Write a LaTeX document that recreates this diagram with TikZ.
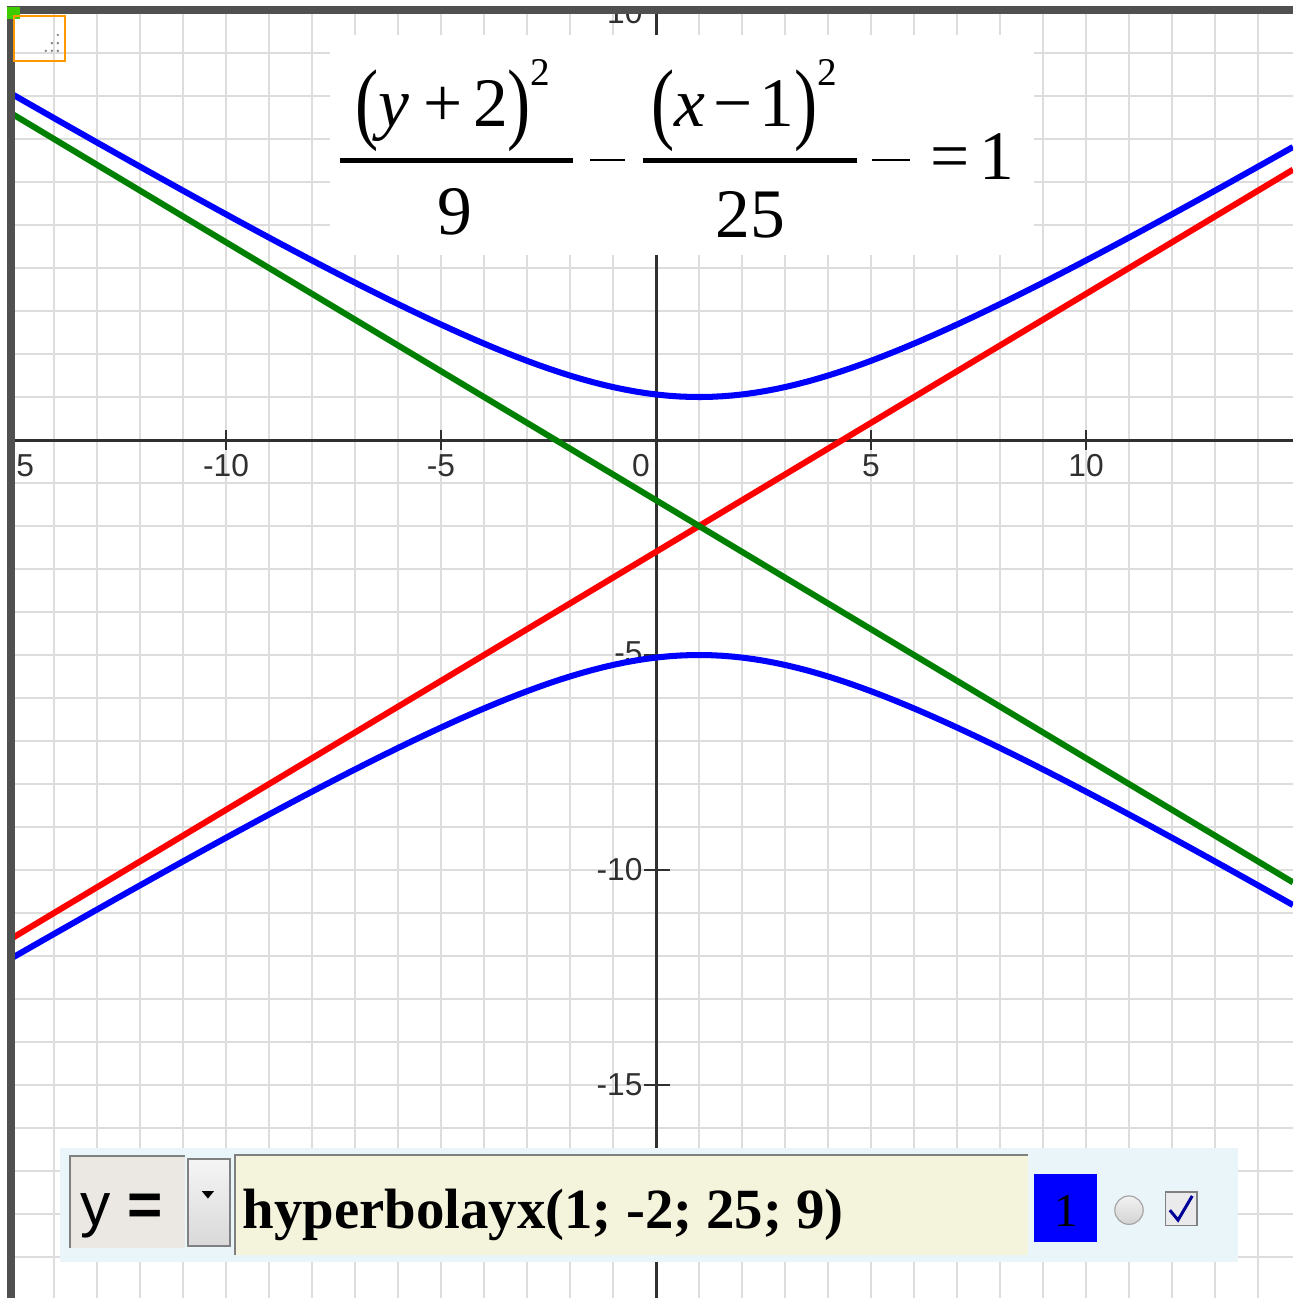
\documentclass[tikz,border=0pt]{standalone}
\usepackage{fontspec}
\setmainfont{Liberation Sans}
\newfontfamily\timesfont{Liberation Serif}
\usetikzlibrary{arrows.meta}
\definecolor{gridgray}{HTML}{DDDDDD}
\definecolor{axisgray}{HTML}{303030}
\definecolor{framegray}{HTML}{505050}
\definecolor{panelblue}{HTML}{EAF5FA}
\definecolor{labelbox}{HTML}{EBE7E2}
\definecolor{fieldyellow}{HTML}{F4F3DC}
\definecolor{asymgreen}{HTML}{008000}
\newcommand\tallpar[1]{\raisebox{-0.08em}{\scalebox{1}[1.3]{#1}}}
\newcommand\sqrd{\raisebox{0.6em}{\fontsize{13}{13}\selectfont 2}}
\tikzset{ticklab/.style={font=\fontsize{10.5}{12}\selectfont,text=axisgray,inner sep=0pt},
curve/.style={line width=2pt},
fracpart/.style={font=\timesfont\fontsize{23}{27}\selectfont,inner sep=0pt,anchor=base}}

\begin{document}
\begin{tikzpicture}[x=0.5cm,y=0.5cm]
\useasboundingbox[fill=white](-15.256,-19.953)rectangle(14.814,10.233);
\begin{scope}
\clip(-15,-19.953)rectangle(14.814,10);
\foreach \i in {-14,...,14}\draw[gridgray,line width=0.66pt](\i,-19.953)--(\i,10);
\foreach \j in {-19,...,9}\draw[gridgray,line width=0.66pt](-15,\j)--(14.814,\j);
\draw[axisgray,line width=1pt](-15,0)--(14.814,0)(0,-19.953)--(0,10);
\foreach \i in {-10,-5,5,10}\draw[axisgray,line width=0.8pt](\i,-0.23)--(\i,0.23);
\foreach \j in {10,-5,-10,-15}\draw[axisgray,line width=0.8pt](-0.28,\j)--(0.33,\j);
\node[ticklab](xa) at (-14.67,-0.6){5};
\node[ticklab](xb) at (-10,-0.6){-10};
\node[ticklab](xc) at (-5,-0.6){-5};
\node[ticklab](xd) at (-0.35,-0.6){0};
\node[ticklab](xe) at (5,-0.6){5};
\node[ticklab](xf) at (10,-0.6){10};
\node[ticklab,anchor=east](ya) at (-0.3,9.95){10};
\node[ticklab,anchor=east](yb) at (-0.3,-4.95){-5};
\node[ticklab,anchor=east](yc) at (-0.3,-10){-10};
\node[ticklab,anchor=east](yd) at (-0.3,-15){-15};
\draw[red,curve](-15,-11.6)--(14.814,6.288);
\draw[asymgreen,curve](-15,7.6)--(14.814,-10.288);
\draw[blue,curve,domain=-15:14.814,samples=120]plot(\x,{-2+3*sqrt(1+(\x-1)^2/25)});
\draw[blue,curve,domain=-15:14.814,samples=120]plot(\x,{-2-3*sqrt(1+(\x-1)^2/25)});
\end{scope}
\fill[white](-7.58,4.30)rectangle(8.79,9.42);
\node[fracpart](numa) at (-4.72,7.28){\tallpar{(}\textit{y}\hspace{0.2em}+\hspace{0.15em}2\tallpar{)}\sqrd};
\draw[line width=1.65pt](-7.35,6.51)--(-1.93,6.51);
\node[fracpart](dena) at (-4.67,4.77){9};
\draw[line width=0.7pt](-1.53,6.51)--(-0.72,6.51);
\node[fracpart](numb) at (2.05,7.28){\tallpar{(}\textit{x}\hspace{0.12em}−\hspace{0.1em}1\tallpar{)}\sqrd};
\draw[line width=1.65pt](-0.30,6.51)--(4.67,6.51);
\node[fracpart](denb) at (2.19,4.72){25};
\draw[line width=0.7pt](5.02,6.51)--(5.91,6.51);
\node[fracpart](eqs) at (6.84,6.05){=};
\node[fracpart](rhs) at (7.93,6.05){1};
\fill[panelblue](-13.86,-16.47)rectangle(13.53,-19.12);
\fill[labelbox](-13.63,-16.65)rectangle(-10.95,-18.79);
\draw[gray,line width=0.66pt](-13.63,-18.79)--(-13.63,-16.65)--(-10.95,-16.65);
\node[anchor=base west,inner sep=0pt,font=\fontsize{20}{24}\selectfont](ylab) at (-13.40,-18.26){y \textbf{=}};
\shade[top color=gray!8,bottom color=gray!30,draw=gray,line width=0.66pt](-10.88,-16.72)rectangle(-9.91,-18.74);
\fill[black](-10.56,-17.47)--(-10.28,-17.47)--(-10.42,-17.64)--cycle;
\fill[fieldyellow](-9.79,-16.63)rectangle(8.65,-18.95);
\draw[gray,line width=0.66pt](-9.79,-18.95)--(-9.79,-16.63)--(8.65,-16.63);
\node[anchor=base west,inner sep=0pt,font=\timesfont\bfseries\fontsize{18.8}{22}\selectfont](expr) at (-9.63,-18.33){hyperbolayx(1; -2; 25; 9)};
\fill[blue](8.79,-17.07)rectangle(10.26,-18.65);
\node[inner sep=0pt,font=\timesfont\fontsize{15.6}{18}\selectfont](colnum) at (9.53,-17.93){1};
\shadedraw[top color=gray!10,bottom color=gray!35,draw=gray!70](11.0,-17.91)circle(0.33);
\filldraw[fill=blue!8!gray!15,draw=gray](11.84,-17.49)rectangle(12.58,-18.26);
\draw[blue!60!black,line width=1pt](11.95,-17.91)--(12.14,-18.14)--(12.47,-17.58);
\draw[framegray,line width=2.6pt](-15,-19.953)--(-15,10)--(14.814,10);
\fill[green!70!yellow!80!black](-15.1,10.08)rectangle(-14.78,9.78);
\draw[orange!80!yellow,line width=0.7pt](-14.93,9.86)rectangle(-13.74,8.81);
\foreach \p in {(-13.91,9.42),(-14.05,9.23),(-13.91,9.23),(-14.19,9.05),(-14.05,9.05),(-13.91,9.05)}\fill[gray]\p circle(0.03);
\end{tikzpicture}
\end{document}
